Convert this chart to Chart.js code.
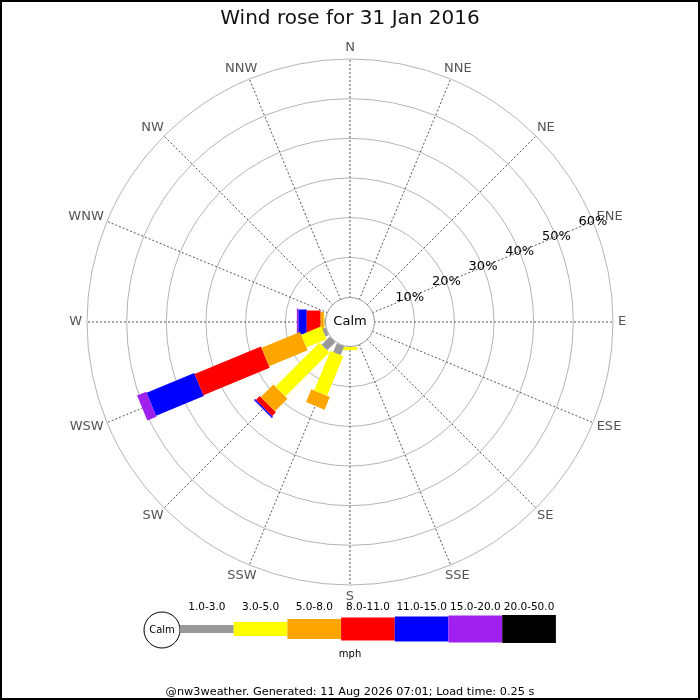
<!DOCTYPE html>
<html>
<head>
<meta charset="utf-8">
<title>Wind rose for 31 Jan 2016</title>
<script src="https://cdn.jsdelivr.net/npm/chart.js@4.4.1/dist/chart.umd.min.js"></script>
<style>
  html, body { margin: 0; padding: 0; background: #fff; }
  #rose { display: block; }
</style>
</head>
<body>
<canvas id="rose" width="700" height="700"></canvas>
<script>
var directions = ['N', 'NNE', 'NE', 'ENE', 'E', 'ESE', 'SE', 'SSE', 'S', 'SSW', 'SW', 'WSW', 'W', 'WNW', 'NW', 'NNW'];
var speedBands = ['1.0-3.0', '3.0-5.0', '5.0-8.0', '8.0-11.0', '11.0-15.0', '15.0-20.0', '20.0-50.0'];
var tickValues = [10, 20, 30, 40, 50, 60];

// % of the day from each direction, one array per speed band (mph)
var band1to3   = [0, 0, 0, 0, 0, 0, 0, 0, 0,   2.3,  2.8,  0.8, 0.1, 0, 0, 0];
var band3to5   = [0, 0, 0, 0, 0, 0, 0, 0, 0.8, 10.8, 15.7, 5.5, 0.2, 0, 0, 0];
var band5to8   = [0, 0, 0, 0, 0, 0, 0, 0, 0,   3.5,  4.5,  10.5, 0.8, 0, 0, 0];
var band8to11  = [0, 0, 0, 0, 0, 0, 0, 0, 0,   0,    1.3,  18.1, 3.5, 0, 0, 0];
var band11to15 = [0, 0, 0, 0, 0, 0, 0, 0, 0,   0,    0.4,  13.0, 2.1, 0, 0, 0];
var band15to20 = [0, 0, 0, 0, 0, 0, 0, 0, 0,   0,    0.1,  2.5,  0.4, 0, 0, 0];
var band20to50 = [0, 0, 0, 0, 0, 0, 0, 0, 0,   0,    0,    0,    0,   0, 0, 0];

var bands = [band1to3, band3to5, band5to8, band8to11, band11to15, band15to20, band20to50];
var bandColors = ['#999999', '#ffff00', '#ffa500', '#ff0000', '#0000ff', '#a020f0', '#000000'];
var bandThickness = [8, 14, 20, 23, 25, 27, 28];
var rMin = -6.3; // room in the middle for the calm circle

Chart.defaults.font.family = '"DejaVu Sans", sans-serif';

// each bar piece is a radar point drawn as a thick line, placed at the middle of its stack segment
var base = directions.map(function() { return 0; });
var datasets = bands.map(function(values, k) {
  var mids = values.map(function(v, i) {
    var m = v > 0 ? base[i] + v / 2 : null;
    base[i] += v;
    return m;
  });
  return {
    label: speedBands[k],
    data: mids,
    showLine: false,
    fill: false,
    clip: false,
    pointStyle: 'line',
    pointBackgroundColor: bandColors[k],
    pointBorderColor: bandColors[k],
    pointBorderWidth: bandThickness[k],
    pointRotation: function(ctx) {
      return (ctx.dataIndex || 0) * 360 / directions.length - 90;
    },
    pointRadius: function(ctx) {
      var r = ctx.chart.scales.r;
      var v = values[ctx.dataIndex] || 0;
      if (!r) return 0;
      return v / 2 * r.drawingArea / (r.max - r.min);
    }
  };
});

var roseDecor = {
  id: 'roseDecor',
  afterDatasetsDraw: function(chart) {
    var ctx = chart.ctx;
    var r = chart.scales.r;
    var zeroR = r.getDistanceFromCenterForValue(0) - 0.5;
    ctx.save();

    // calm circle
    ctx.beginPath();
    ctx.arc(r.xCenter, r.yCenter, zeroR, 0, Math.PI * 2);
    ctx.fillStyle = '#fff';
    ctx.fill();
    ctx.strokeStyle = '#999';
    ctx.lineWidth = 1;
    ctx.stroke();
    ctx.textAlign = 'center';
    ctx.textBaseline = 'middle';
    ctx.fillStyle = '#000';
    ctx.font = '13px "DejaVu Sans"';
    ctx.fillText('Calm', r.xCenter, r.yCenter);

    // compass point labels
    ctx.fillStyle = '#555';
    directions.forEach(function(d, i) {
      var p = r.getPointPosition(i, r.drawingArea + 5);
      var a = r.getIndexAngle(i);
      var w = ctx.measureText(d).width;
      ctx.fillText(d, p.x + Math.sin(a) * w / 2, p.y - Math.cos(a) * 6.5);
    });

    // percentage labels along ENE
    ctx.fillStyle = '#000';
    tickValues.forEach(function(v) {
      var p = r.getPointPosition(3, r.getDistanceFromCenterForValue(v));
      ctx.fillText(v + '%', p.x, p.y);
    });
    ctx.restore();
  },
  afterDraw: function(chart) {
    var ctx = chart.ctx;
    ctx.save();

    // speed legend
    var y = 629, x0 = 180, len = 53.7;
    ctx.beginPath();
    ctx.arc(162, 630, 18, 0, Math.PI * 2);
    ctx.fillStyle = '#fff';
    ctx.fill();
    ctx.strokeStyle = '#000';
    ctx.lineWidth = 1;
    ctx.stroke();
    ctx.textAlign = 'center';
    ctx.textBaseline = 'middle';
    ctx.fillStyle = '#000';
    ctx.font = '10px "DejaVu Sans"';
    ctx.fillText('Calm', 162, 630);

    ctx.font = '10.5px "DejaVu Sans"';
    speedBands.forEach(function(s, k) {
      var h = bandThickness[k];
      ctx.fillStyle = bandColors[k];
      ctx.fillRect(x0 + k * len, y - h / 2, len, h);
      ctx.fillStyle = '#000';
      ctx.fillText(s, x0 + (k + 0.5) * len, 607);
    });
    ctx.font = '10px "DejaVu Sans"';
    ctx.fillText('mph', 350, 654);

    // image frame
    ctx.strokeStyle = '#000';
    ctx.lineWidth = 2;
    ctx.strokeRect(1, 1, chart.width - 2, chart.height - 2);
    ctx.restore();
  }
};

new Chart(document.getElementById('rose'), {
  type: 'radar',
  data: {
    labels: directions,
    datasets: datasets
  },
  options: {
    responsive: false,
    animation: false,
    devicePixelRatio: 1,
    events: [],
    layout: {
      padding: { left: 87, right: 87, top: 0, bottom: 0 }
    },
    plugins: {
      legend: { display: false },
      tooltip: { enabled: false },
      title: {
        display: true,
        text: 'Wind rose for 31 Jan 2016',
        color: '#111',
        font: { size: 20, weight: 'normal', lineHeight: '24px' },
        padding: { top: 6.5, bottom: 28 }
      },
      subtitle: {
        display: true,
        position: 'bottom',
        text: '@nw3weather. Generated: 11 Aug 2026 07:01; Load time: 0.25 s',
        color: '#000',
        font: { size: 11.3, lineHeight: '13px' },
        padding: { top: 100, bottom: 1.5 }
      }
    },
    scales: {
      r: {
        min: rMin,
        max: 60,
        startAngle: 0,
        afterBuildTicks: function(scale) {
          scale.ticks = [rMin].concat(tickValues).map(function(v) { return { value: v }; });
        },
        ticks: { display: false },
        grid: {
          circular: true,
          lineWidth: 1,
          color: function(ctx) {
            return ctx.tick && ctx.tick.value > 0 ? '#b4b4b4' : 'rgba(0,0,0,0)';
          }
        },
        angleLines: {
          display: true,
          color: '#555',
          lineWidth: 1,
          borderDash: [2, 2]
        },
        pointLabels: { display: false }
      }
    }
  },
  plugins: [roseDecor]
});
</script>
</body>
</html>
